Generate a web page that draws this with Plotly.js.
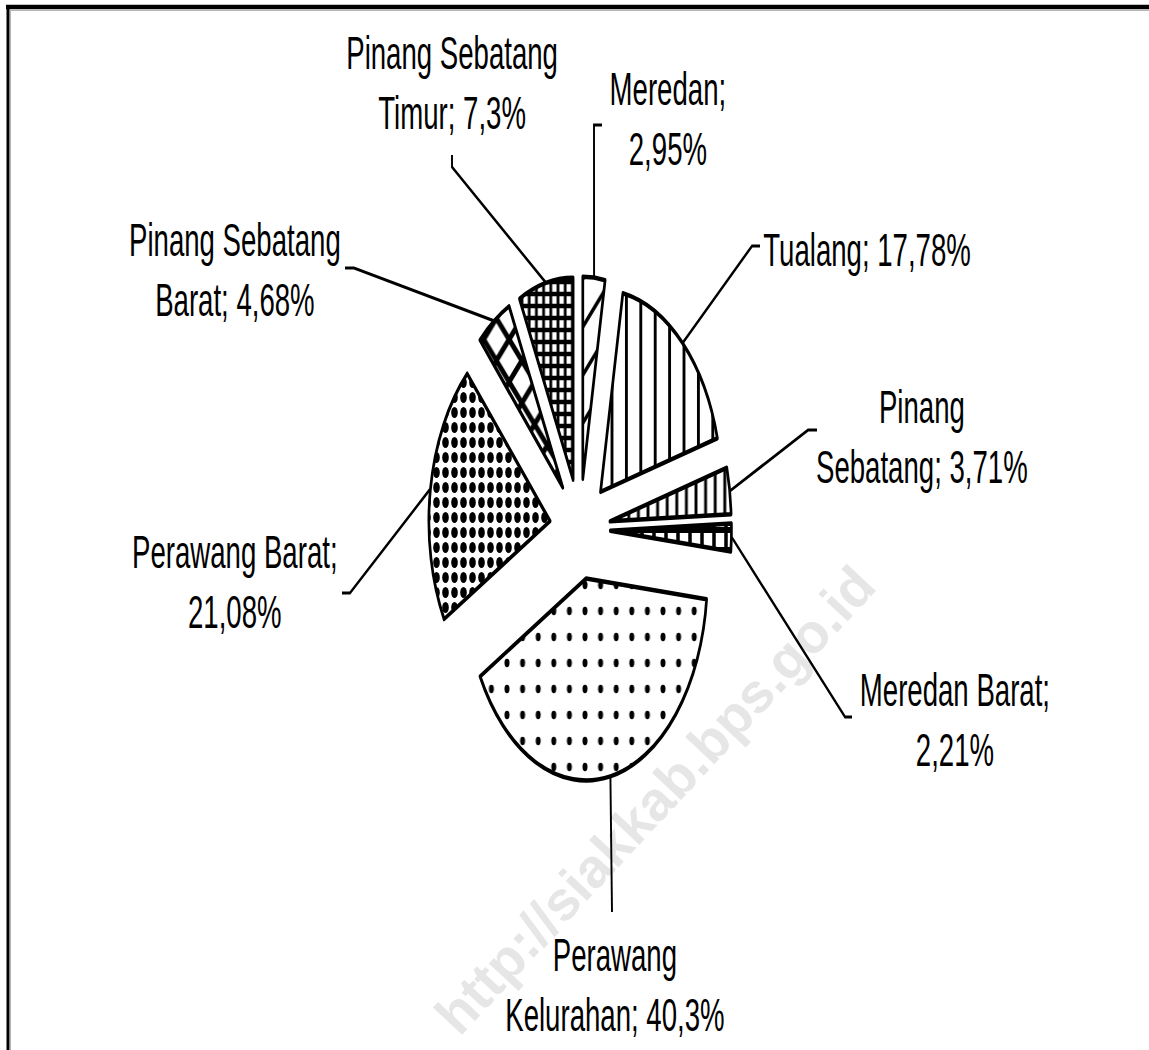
<!DOCTYPE html>
<html>
<head>
<meta charset="utf-8">
<script src="https://cdn.plot.ly/plotly-3.0.1.min.js"></script>
<style>
  html, body { margin: 0; padding: 0; background: #ffffff; overflow: hidden; }
  #wrap { position: relative; width: 1149px; height: 1050px; overflow: hidden; background: #ffffff; }
  #bg { position: absolute; left: 0; top: 0; width: 1149px; height: 1050px; }
  #pie { position: absolute; left: 0; top: 0; width: 1915px; height: 1050px;
         transform: scaleX(0.6); transform-origin: 0 0; }
</style>
</head>
<body>
<div id="wrap">
  <div id="bg"></div>
  <div id="pie"></div>
</div>
<script>
// ---------------- data ----------------
const categories = ["Meredan", "Tualang", "Pinang Sebatang", "Meredan Barat",
                    "Perawang Kelurahan", "Perawang Barat", "Pinang Sebatang Barat",
                    "Pinang Sebatang Timur"];
const shares = [2.95, 17.78, 3.71, 2.21, 40.3, 21.08, 4.68, 7.3];
const watermarkText = "http://siakkab.bps.go.id";

// ---------------- layout constants ----------------
const PAGE_W = 1149, PAGE_H = 1050;
const SX = 0.6;                 // horizontal squash of the whole chart
const CX = 580, CY = 529;       // pie centre (page px)
const R = 202;                  // pie radius (unsquashed px)
const PULL = 0.25;
const FONT = "Liberation Sans, Arial, sans-serif";
const FS = 46;

// number of words on the first line of each label (layout only)
const firstLineWords = [1, 99, 1, 2, 1, 2, 2, 2];
// label anchor positions (page px) and alignment
const labelPos = [
  [668, 119, "center"], [762, 250, "left"], [922, 437, "center"], [955, 720, "center"],
  [615, 985, "center"], [235, 582, "center"], [235, 270, "center"], [452, 83, "center"]
];
// leader line knee / end points on label side (page px)
const leaderEnds = [
  [[594, 125], [602, 125]],
  [[752, 246], [760, 246]],
  [[808, 430], [817, 430]],
  [[845, 717], [852, 717]],
  [[612, 912]],
  [[350, 593], [342, 593]],
  [[354, 268], [345, 268]],
  [[452, 167], [452, 155]]
];

// pattern styles per slice (style only)
const patterns = [
  {shape: "/", size: 34, solidity: 0.14},
  {shape: "|", size: 24, solidity: 0.2},
  {shape: "|", size: 16, solidity: 0.3},
  {shape: "+", size: 20, solidity: 0.5},
  {shape: ".", size: 26, solidity: 0.08},
  {shape: ".", size: 15, solidity: 0.42},
  {shape: "x", size: 30, solidity: 0.4},
  {shape: "+", size: 12, solidity: 0.62}
];

// ---------------- helpers ----------------
const fmt = v => String(v).replace(".", ",") + "%";
const px2x = x => x / PAGE_W;
const px2y = y => 1 - y / PAGE_H;

function labelText(i) {
  const words = (categories[i] + "; " + fmt(shares[i])).split(" ");
  const k = firstLineWords[i];
  if (k >= words.length) return words.join(" ");
  return words.slice(0, k).join(" ") + "<br>" + words.slice(k).join(" ");
}

// ---------------- pie geometry ----------------
const WU = PAGE_W / SX;
const cxU = CX / SX;
const half = R * (1 + PULL);
const domainX = [(cxU - half) / WU, (cxU + half) / WU];
const domainY = [1 - (CY + half) / PAGE_H, 1 - (CY - half) / PAGE_H];

const total = shares.reduce((a, b) => a + b, 0);
let cum = 0;
const arcPts = shares.map(v => {
  const th = 2 * Math.PI * (cum + v / 2) / total;
  cum += v;
  const d = (1 + PULL) * R + 1;
  return [CX + d * Math.sin(th) * SX, CY - d * Math.cos(th)];
});

const shapes = arcPts.map((p, i) => {
  let path = "M" + px2x(p[0]) + "," + px2y(p[1]);
  leaderEnds[i].forEach(q => { path += " L" + px2x(q[0]) + "," + px2y(q[1]); });
  return {type: "path", xref: "paper", yref: "paper", path: path,
          line: {color: "#000000", width: 3.2}};
});

const annotations = categories.map((c, i) => ({
  xref: "paper", yref: "paper",
  x: px2x(labelPos[i][0]), y: px2y(labelPos[i][1]),
  xanchor: labelPos[i][2], yanchor: "middle", align: "center",
  text: labelText(i), showarrow: false,
  font: {family: FONT, size: FS, color: "#000000"}
}));

const pieTrace = {
  type: "pie",
  labels: categories,
  values: shares,
  sort: false,
  direction: "clockwise",
  rotation: 0,
  pull: shares.map(() => PULL),
  textinfo: "none",
  hoverinfo: "label+percent",
  showlegend: false,
  domain: {x: domainX, y: domainY},
  marker: {
    colors: shares.map(() => "#ffffff"),
    line: {color: "#000000", width: 4.5},
    pattern: {
      shape: patterns.map(p => p.shape),
      size: patterns.map(p => p.size),
      solidity: patterns.map(p => p.solidity),
      fgcolor: "#000000",
      bgcolor: "#ffffff",
      fgopacity: 1,
      fillmode: "replace"
    }
  }
};

Plotly.newPlot("pie", [pieTrace], {
  width: WU, height: PAGE_H,
  margin: {l: 0, r: 0, t: 0, b: 0},
  paper_bgcolor: "rgba(0,0,0,0)",
  showlegend: false,
  shapes: shapes,
  annotations: annotations
}, {displayModeBar: false, staticPlot: true});

// background layer: frame + watermark (not squashed)
Plotly.newPlot("bg", [], {
  width: PAGE_W, height: PAGE_H,
  margin: {l: 0, r: 0, t: 0, b: 0},
  paper_bgcolor: "#ffffff", plot_bgcolor: "#ffffff",
  xaxis: {visible: false}, yaxis: {visible: false},
  shapes: [
    {type: "line", xref: "paper", yref: "paper", x0: px2x(6), x1: 1, y0: px2y(7), y1: px2y(7),
     line: {color: "#000000", width: 4.5}},
    {type: "line", xref: "paper", yref: "paper", x0: px2x(10), x1: 1, y0: px2y(10.5), y1: px2y(10.5),
     line: {color: "#b4b4b4", width: 1}},
    {type: "line", xref: "paper", yref: "paper", x0: px2x(8), x1: px2x(8), y0: px2y(5), y1: 0,
     line: {color: "#000000", width: 3}},
    {type: "line", xref: "paper", yref: "paper", x0: px2x(10.5), x1: px2x(10.5), y0: px2y(10), y1: 0,
     line: {color: "#b4b4b4", width: 1}}
  ],
  annotations: [{
    xref: "paper", yref: "paper", x: px2x(655), y: px2y(800),
    xanchor: "center", yanchor: "middle",
    text: watermarkText, showarrow: false, textangle: -47,
    font: {family: "Liberation Sans, Arial, sans-serif", size: 55, color: "#e6e6e6", weight: "bold"}
  }]
}, {displayModeBar: false, staticPlot: true});
</script>
</body>
</html>
